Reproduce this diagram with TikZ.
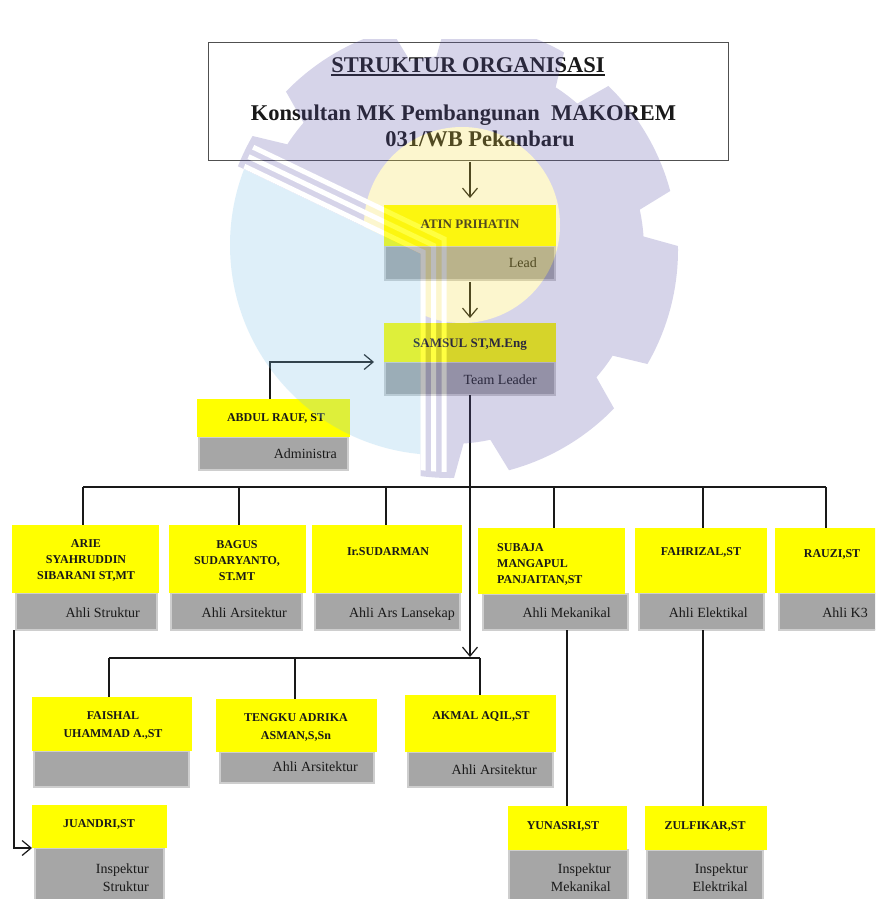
\documentclass[tikz,border=0pt]{standalone}
\usepackage{fontspec}
\setmainfont{Liberation Serif}
\usetikzlibrary{arrows.meta,calc}
\definecolor{ybox}{RGB}{255,255,0}
\definecolor{gbox}{RGB}{166,166,166}
\definecolor{gedge}{RGB}{206,206,206}
\definecolor{tedge}{RGB}{80,80,80}
\definecolor{ink}{RGB}{25,25,25}
\definecolor{wlav}{RGB}{95,85,170}
\definecolor{wblue}{RGB}{125,195,235}
\definecolor{wyel}{RGB}{247,220,60}
\tikzset{
  yb/.style={fill=ybox, draw=none, inner sep=0pt, outer sep=0pt},
  gb/.style={fill=gbox, draw=gedge, line width=1.2pt, inner sep=0pt, outer sep=0pt},
  ttl/.style={draw=tedge, line width=1pt, fill=none, inner sep=0pt, outer sep=0pt},
  tt/.style={font=\bfseries\fontsize{22.5}{27}\selectfont, inner sep=0pt, text=ink},
  nm/.style={font=\bfseries\fontsize{12}{16}\selectfont, inner sep=0pt, align=center, text=ink, anchor=north},
  nmtwo/.style={nm, font=\bfseries\fontsize{12}{18}\selectfont},
  nmb/.style={font=\bfseries\fontsize{13}{16}\selectfont, inner sep=0pt, text=ink, anchor=north},
  rl/.style={font=\fontsize{14}{18}\selectfont, inner sep=0pt, align=right, text=ink, anchor=base east},
  rltwo/.style={font=\fontsize{14}{18}\selectfont, inner sep=0pt, align=right, text=ink, anchor=north east},
  ln/.style={draw=ink, line width=1.2pt},
  arr/.style={ln, -{Straight Barb[length=9pt,width=15pt]}},
  stripe/.style={draw=white, line width=5pt},
}
\newcommand\bx[6]{\node[#1, minimum width={#4-#2}, minimum height={#5-#3}] (#6) at ({(#2+#4)/2},{(#3+#5)/2}) {};}
\begin{document}
\begin{tikzpicture}[x=1pt,y=-1pt]
\useasboundingbox (0,0) rectangle (875,899);
\clip (0,0) rectangle (875,899);
\fill[white] (0,0) rectangle (875,899);

% title
\bx{ttl}{208}{43}{728}{160}{title}
\node[tt, anchor=base] (t1) at (468,72) {STRUKTUR ORGANISASI};
\draw[ink, line width=1.6pt] ([yshift=-2.8pt]t1.base west) -- ([yshift=-2.8pt]t1.base east);
\node[tt, anchor=base] (t2) at (463.5,120) {Konsultan MK Pembangunan\ \ MAKOREM};
\node[tt, anchor=base] (t3) at (480,146) {031/WB Pekanbaru};

% ATIN
\bx{gb}{385}{246}{555}{280}{ATINg}
\bx{yb}{384}{205}{556}{246}{ATINy}
\node[nmb] (ATINn) at (470,219.5) {ATIN PRIHATIN};
\node[rl] (ATINr) at (537,267) {Lead};

% SAMSUL
\bx{gb}{385}{362}{555}{395}{SAMg}
\bx{yb}{384}{323}{556}{362}{SAMy}
\node[nmb] (SAMn) at (470,338.5) {SAMSUL ST,M.Eng};
\node[rl] (SAMr) at (537,384) {Team Leader};

% ABDUL
\bx{gb}{199}{437}{348}{470}{ABDg}
\bx{yb}{197}{399}{350}{437}{ABDy}
\node[nm] (ABDn) at (276,413) {ABDUL RAUF, ST};
\node[rl] (ABDr) at (337,458) {Administra};

% row 1
\bx{gb}{16}{593}{157}{630}{ARIg}
\bx{yb}{12}{525}{159}{593}{ARIy}
\node[nm] (ARIn) at (86,539.5) {ARIE\\SYAHRUDDIN\\SIBARANI ST,MT};
\node[rl] (ARIr) at (140,617) {Ahli Struktur};

\bx{gb}{171}{593}{302}{630}{BAGg}
\bx{yb}{169}{525}{306}{593}{BAGy}
\node[nm] (BAGn) at (237,540) {BAGUS\\SUDARYANTO,\\ST.MT};
\node[rl] (BAGr) at (287,617) {Ahli Arsitektur};

\bx{gb}{315}{593}{460}{630}{SUDg}
\bx{yb}{312}{525}{462}{593}{SUDy}
\node[nm] (SUDn) at (388,547) {Ir.SUDARMAN};
\node[rl] (SUDr) at (455,617) {Ahli Ars Lansekap};

\bx{gb}{483}{594}{628}{630}{SUBg}
\bx{yb}{478}{528}{625}{594}{SUBy}
\node[nm, align=left, anchor=north west] (SUBn) at (497,543) {SUBAJA\\MANGAPUL\\PANJAITAN,ST};
\node[rl] (SUBr) at (611,617) {Ahli Mekanikal};

\bx{gb}{639}{593}{764}{630}{FAHg}
\bx{yb}{635}{528}{767}{593}{FAHy}
\node[nm] (FAHn) at (701,547) {FAHRIZAL,ST};
\node[rl] (FAHr) at (748,617) {Ahli Elektikal};

\bx{gb}{779}{593}{888}{630}{RAUg}
\bx{yb}{775}{528}{890}{593}{RAUy}
\node[nm] (RAUn) at (832,549) {RAUZI,ST};
\node[rl] (RAUr) at (868,617) {Ahli K3};

% row 2
\bx{gb}{34}{751}{189}{787}{FAIg}
\bx{yb}{32}{697}{192}{751}{FAIy}
\node[nmtwo] (FAIn) at (113,711) {FAISHAL\\UHAMMAD A.,ST};

\bx{gb}{220}{752}{374}{783}{TENg}
\bx{yb}{216}{699}{377}{752}{TENy}
\node[nmtwo] (TENn) at (296,713) {TENGKU ADRIKA\\ASMAN,S,Sn};
\node[rl] (TENr) at (358,771) {Ahli Arsitektur};

\bx{gb}{408}{752}{553}{787}{AKMg}
\bx{yb}{405}{695}{556}{752}{AKMy}
\node[nm] (AKMn) at (481,711) {AKMAL AQIL,ST};
\node[rl] (AKMr) at (537,774) {Ahli Arsitektur};

% row 3
\bx{gb}{35}{848}{164}{912}{JUAg}
\bx{yb}{32}{805}{167}{848}{JUAy}
\node[nm] (JUAn) at (99,819) {JUANDRI,ST};
\node[rltwo] (JUAr) at (149,864) {Inspektur\\Struktur};

\bx{gb}{509}{850}{628}{912}{YUNg}
\bx{yb}{508}{806}{627}{850}{YUNy}
\node[nm] (YUNn) at (563,821) {YUNASRI,ST};
\node[rltwo] (YUNr) at (611,864) {Inspektur\\Mekanikal};

\bx{gb}{647}{850}{763}{912}{ZULg}
\bx{yb}{645}{806}{767}{850}{ZULy}
\node[nm] (ZULn) at (705,821) {ZULFIKAR,ST};
\node[rltwo] (ZULr) at (748,864) {Inspektur\\Elektrikal};

% connectors
\draw[arr] ($(title.south -| ATINy.north)+(0,2)$) -- ($(ATINy.north)+(0,-7)$);
\draw[arr] ($(ATINg.south)+(0,2)$) -- ($(SAMy.north)+(0,-5)$);
\draw[arr] ($(ABDy.north)+(-3.5,0)$) |- ($(SAMy.south west)+(-10,0)$);

\coordinate (b1a) at (83,487);
\coordinate (b1b) at (239,487);
\coordinate (b1c) at (386,487);
\coordinate (b1d) at (554,487);
\coordinate (b1e) at (703,487);
\coordinate (b1f) at (826,487);
\draw[ln] (b1a) -- (b1f);
\draw[ln] (b1a) -- (b1a |- ARIy.north);
\draw[ln] (b1b) -- (b1b |- BAGy.north);
\draw[ln] (b1c) -- (b1c |- SUDy.north);
\draw[ln] (b1d) -- (b1d |- SUBy.north);
\draw[ln] (b1e) -- (b1e |- FAHy.north);
\draw[ln] (b1f) -- (b1f |- RAUy.north);

\coordinate (b2a) at (109,658);
\coordinate (b2b) at (295,658);
\coordinate (b2c) at (480,658);
\coordinate (b2m) at (470,657);
\draw[arr] (SAMg.south) -- (b2m);
\draw[ln] (b2a) -- (b2c);
\draw[ln] (b2a) -- (b2a |- FAIy.north);
\draw[ln] (b2b) -- (b2b |- TENy.north);
\draw[ln] (b2c) -- (b2c |- AKMy.north);

\draw[arr] ($(ARIg.south west)+(-2,0)$) |- (JUAy.south west);
\draw[ln] ($(SUBg.south -| YUNy.north)+(-0.5,0)$) -- ($(YUNy.north)+(-0.5,0)$);
\draw[ln] ($(FAHg.south)+(1.5,0)$) -- ($(FAHg.south |- ZULy.north)+(1.5,0)$);

% watermark
\begin{scope}[transparency group, opacity=0.25]
  \clip (0,40) rectangle (875,899);
  \begin{scope}
    \clip (150,124) -- (420.5,254) -- (420.5,480) -- (720,480) -- (720,0) -- (150,0) -- cycle;
    \begin{scope}[shift={(450,250)}]
      \fill[wlav] (-1:228) \foreach \k in {0,...,7} { arc[start angle={-1+45*\k}, end angle={30+45*\k}, radius=228] -- ({33+45*\k}:194) arc[start angle={33+45*\k}, end angle={41+45*\k}, radius=194] -- ({44+45*\k}:228) } -- cycle;
    \end{scope}
    \fill[wyel] (462,225) circle[radius=98pt];
  \end{scope}
  \begin{scope}
    \clip (150,124) -- (420.5,254) -- (420.5,480) -- (150,480) -- cycle;
    \fill[wblue] (440,245) circle[radius=210pt];
  \end{scope}
  \begin{scope}
    \clip (450,250) circle[radius=222pt];
    \foreach \k in {0,1,2} {
      \draw[stripe] ({150},{252-6.6*\k-0.48*(273+10.5*\k)}) -- ({423+10.5*\k},{252-6.6*\k}) -- ({423+10.5*\k},480);
    }
  \end{scope}
\end{scope}
\end{tikzpicture}
\end{document}
